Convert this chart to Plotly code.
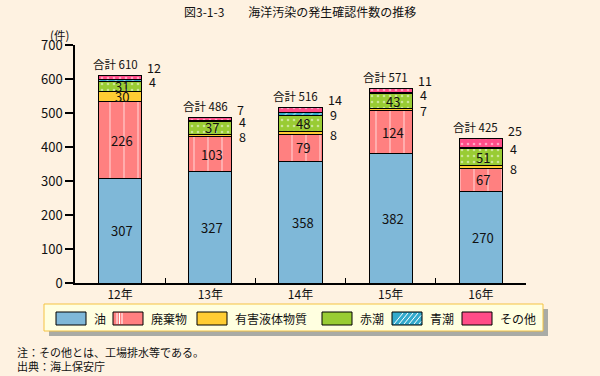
import plotly.graph_objects as go

years = ["12年", "13年", "14年", "15年", "16年"]
oil = [307, 327, 358, 382, 270]
waste = [226, 103, 79, 124, 67]
hazardous = [30, 8, 8, 7, 8]
red_tide = [31, 37, 48, 43, 51]
blue_tide = [4, 4, 9, 4, 4]
other = [12, 7, 14, 11, 25]
totals = [610, 486, 516, 571, 425]

series_names = ["油", "廃棄物", "有害液体物質", "赤潮", "青潮", "その他"]
series_vals = [oil, waste, hazardous, red_tide, blue_tide, other]
colors = ["#7FB8D8", "#FF8080", "#FFCC33", "#99CC33", "#33AACC", "#FF4D88"]
patterns = ["", "|", "", ".", "/", "."]

FONT = "Noto Sans CJK JP, Noto Sans, sans-serif"
BG = "#FEF2E1"
W, H = 600, 376
L, R, T, B = 75, 74, 45, 93
pw, ph = W - L - R, H - T - B

def px(x):
    return (x - L) / pw

def py(y):
    return (H - B - y) / ph

fig = go.Figure()
for name, vals, col, pat in zip(series_names, series_vals, colors, patterns):
    marker = dict(color=col, line=dict(color="black", width=1))
    if pat == "|":
        marker["pattern"] = dict(shape=pat, fgcolor="white", size=14, solidity=0.1, fillmode="overlay")
    elif pat == "/":
        marker["pattern"] = dict(shape=pat, fgcolor="white", size=6, solidity=0.2, fillmode="overlay")
    elif pat == ".":
        marker["pattern"] = dict(shape=pat, fgcolor="white", size=6, solidity=0.15, fillmode="overlay")
    fig.add_trace(go.Bar(x=years, y=vals, name=name, marker=marker, width=0.48,
                         showlegend=False, hoverinfo="y"))

annotations = []
cum = [0] * len(years)
for si, vals in enumerate(series_vals):
    for i, v in enumerate(vals):
        mid = cum[i] + v / 2
        name = series_names[si]
        if name in ("油", "廃棄物", "赤潮") or (name == "有害液体物質" and v >= 20):
            annotations.append(dict(x=years[i], y=mid, text=str(v), showarrow=False,
                                    font=dict(size=13, color="#111"), xshift=2))
        elif name in ("有害液体物質", "青潮"):
            annotations.append(dict(x=years[i], y=mid, text=str(v), showarrow=False,
                                    xanchor="left", xshift=27, yshift=-1, font=dict(size=12.5, color="#111")))
        else:
            annotations.append(dict(x=years[i], y=totals[i], text=str(v), showarrow=False,
                                    xanchor="left", xshift=25, yshift=8,
                                    font=dict(size=12.5, color="#111")))
        cum[i] += v

for i, t in enumerate(totals):
    annotations.append(dict(x=years[i], y=t, text=f"合計 {t}", showarrow=False,
                            yanchor="bottom", yshift=2, xshift=-5,
                            font=dict(size=11.5, color="#111")))

# title, unit, notes
annotations.append(dict(xref="paper", yref="paper", x=px(300), y=py(11), text="図3-1-3　　海洋汚染の発生確認件数の推移",
                        showarrow=False, font=dict(size=12, color="#111"), xanchor="center", yanchor="middle"))
annotations.append(dict(xref="paper", yref="paper", x=px(59), y=py(35), text="(件)",
                        showarrow=False, font=dict(size=11.5, color="#111"), xanchor="center", yanchor="middle"))
annotations.append(dict(xref="paper", yref="paper", x=px(15), y=py(352), text="注：その他とは、工場排水等である。",
                        showarrow=False, font=dict(size=11, color="#111"), xanchor="left", yanchor="middle"))
annotations.append(dict(xref="paper", yref="paper", x=px(15), y=py(366), text="出典：海上保安庁",
                        showarrow=False, font=dict(size=11, color="#111"), xanchor="left", yanchor="middle"))

shapes = []
# legend box with shadow
shapes.append(dict(type="rect", xref="paper", yref="paper", x0=px(49), x1=px(548), y0=py(309), y1=py(336),
                   fillcolor="#A9ABA6", line=dict(width=0), layer="above"))
shapes.append(dict(type="rect", xref="paper", yref="paper", x0=px(44), x1=px(543), y0=py(304), y1=py(331),
                   fillcolor="#FFFFE0", line=dict(color="#F5C342", width=1), layer="above"))
swatch_x = [56, 113, 197, 322, 392, 462]
for sx, name, col, pat in zip(swatch_x, series_names, colors, patterns):
    shapes.append(dict(type="rect", xref="paper", yref="paper", x0=px(sx), x1=px(sx + 30), y0=py(312), y1=py(325),
                       fillcolor=col, line=dict(color="black", width=1), layer="above"))
    if pat == "|":
        for dx in (4, 6.5, 9):
            shapes.append(dict(type="line", xref="paper", yref="paper", x0=px(sx + dx), x1=px(sx + dx),
                               y0=py(313), y1=py(324), line=dict(color="white", width=1), layer="above"))
    if pat == "/":
        for dx in range(2, 30, 5):
            shapes.append(dict(type="line", xref="paper", yref="paper", x0=px(sx + dx), x1=px(min(sx + dx + 9, sx + 29)),
                               y0=py(324), y1=py(324 - min(9, 29 - dx) * 11 / 9), line=dict(color="white", width=1), layer="above"))
    annotations.append(dict(xref="paper", yref="paper", x=px(sx + 36), y=py(318.5), text=name, showarrow=False,
                            xanchor="left", yanchor="middle", font=dict(size=12, color="#111")))

fig.update_layout(
    barmode="stack",
    width=W, height=H,
    margin=dict(l=L, r=R, t=T, b=B, pad=0),
    paper_bgcolor=BG, plot_bgcolor=BG,
    font=dict(family=FONT, color="#111", size=12),
    showlegend=False,
    annotations=annotations,
    shapes=shapes,
    bargap=0.52,
)
fig.update_yaxes(range=[0, 700], dtick=100, showgrid=False, zeroline=False,
                 showline=True, linecolor="black", linewidth=1.5,
                 ticks="outside", ticklen=8, tickcolor="black", tickwidth=1.5,
                 tickfont=dict(size=13), fixedrange=True)
fig.update_xaxes(showgrid=False, showline=True, linecolor="black", linewidth=1.5,
                 ticks="inside", tickson="boundaries", ticklen=5, tickcolor="black", tickwidth=1,
                 tickfont=dict(size=12), range=[-0.5, 4.5], fixedrange=True)

fig.write_html("out.html", config={"displayModeBar": False},
               post_script="document.body.style.margin='0';document.body.style.background='" + BG + "';")
